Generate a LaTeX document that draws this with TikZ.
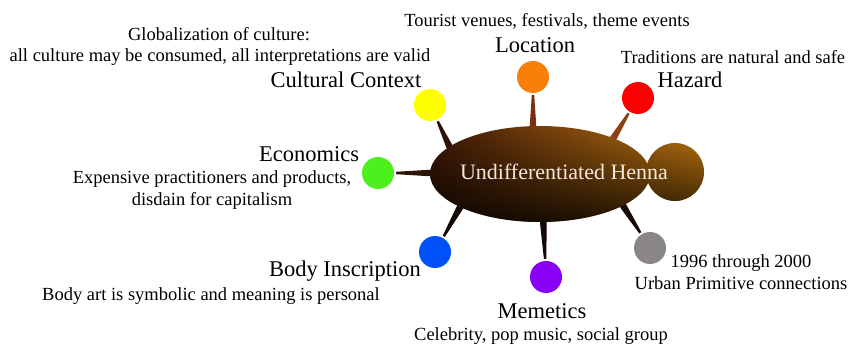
\documentclass[tikz,border=0pt]{standalone}
\usepackage{fontspec}
\setmainfont{Liberation Serif}
\usetikzlibrary{calc,fadings}
\definecolor{hubdark}{HTML}{3E1806}
\definecolor{hubmid}{HTML}{A63C16}
\definecolor{hublight}{HTML}{C47A10}
\definecolor{cyellow}{HTML}{FFFF00}
\definecolor{corange}{HTML}{FA7E0A}
\definecolor{cred}{HTML}{FA0000}
\definecolor{cgreen}{HTML}{4CF01C}
\definecolor{cblue}{HTML}{0052F8}
\definecolor{cpurple}{HTML}{8A00F4}
\definecolor{cgray}{HTML}{8A8686}
\definecolor{spkA}{HTML}{7E2E10}
\definecolor{spkB}{HTML}{8A4412}
\definecolor{spkC}{HTML}{2E1408}
\definecolor{spkD}{HTML}{140804}
\definecolor{hubtext}{HTML}{F6E8DA}
\tikzfading[name=bottomdark, top color=transparent!100, middle color=transparent!85, bottom color=transparent!0]
\newcommand\spikeshape[3]{%
  \path coordinate (T) at ($(#2)!18pt!(#1)$)
        coordinate (P) at ($(#1)!0.22!(T)$)
        coordinate (Q) at ($(#1)!0.08!(T)$);
  \fill[#3] ($(#1)!8pt!90:(T)$) .. controls ($(Q)!3.2pt!90:(T)$) .. ($(P)!3.2pt!90:(T)$)
    -- ($(T)!1.2pt!-90:(#1)$) -- ($(T)!1.2pt!90:(#1)$)
    -- ($(P)!3.2pt!-90:(T)$) .. controls ($(Q)!3.2pt!-90:(T)$) .. ($(#1)!8pt!-90:(T)$) -- cycle;
}
\begin{document}
\begin{tikzpicture}[x=1pt,y=-1pt,
  title/.style={font=\fontsize{22.5}{25}\selectfont, inner sep=0pt},
  note/.style={font=\fontsize{18.5}{22}\selectfont, inner sep=0pt, align=center},
  dot/.style={circle, minimum size=32pt, inner sep=0pt},
]
\useasboundingbox (0,0) rectangle (850,347);
% circles
\node[dot, fill=cyellow] (cY) at (430,105) {};
\node[dot, fill=corange] (cO) at (533,77) {};
\node[dot, fill=cred]    (cR) at (638,98) {};
\node[dot, fill=cgreen]  (cG) at (378,173) {};
\node[dot, fill=cblue]   (cB) at (435,252) {};
\node[dot, fill=cpurple] (cP) at (546,277) {};
\node[dot, fill=cgray]   (cX) at (650,248) {};
% spike bases inside hub
\coordinate (sY) at (452,152);
\coordinate (sO) at (533,133);
\coordinate (sR) at (611,142);
\coordinate (sG) at (438,173);
\coordinate (sB) at (463,202);
\coordinate (sP) at (543,216);
\coordinate (sX) at (620,201);
\spikeshape{sY}{cY}{spkC}
\spikeshape{sO}{cO}{spkA}
\spikeshape{sR}{cR}{spkB}
\spikeshape{sG}{cG}{spkC}
\spikeshape{sB}{cB}{spkD}
\spikeshape{sP}{cP}{spkD}
\spikeshape{sX}{cX}{spkD}
% hub
\shade[left color=hubdark, middle color=hubmid, right color=hublight]
  (540,174) ellipse [x radius=110, y radius=48] (675,172) circle [radius=29];
\fill[black, path fading=bottomdark, fill opacity=0.8]
  (540,174) ellipse [x radius=110, y radius=48] (675,172) circle [radius=29];
\node[font=\fontsize{22}{25}\selectfont, inner sep=0pt, text=hubtext] (hub) at (564,172) {Undifferentiated Henna};
% labels
\node[note] (tCn) at (219,34) {Globalization of culture:};
\node[note] (tCn2) at (220,57) {all culture may be consumed, all interpretations are valid};
\node[title] (tC) at (346,80) {Cultural Context};
\node[note] (tLn) at (547,21) {Tourist venues, festivals, theme events};
\node[title] (tL) at (535,45) {Location};
\node[note] (tHn) at (733,57) {Traditions are natural and safe};
\node[title] (tH) at (690,80) {Hazard};
\node[title] (tE) at (309,154) {Economics};
\node[note] (tEn) at (212,190) {Expensive practitioners and products,\\disdain for capitalism};
\node[title] (tB) at (345,271) {Body Inscription};
\node[note] (tBn) at (211,296) {Body art is symbolic and meaning is personal};
\node[title] (tM) at (542,311) {Memetics};
\node[note] (tMn) at (541,336) {Celebrity, pop music, social group};
\node[note] (tXn) at (741,272) {1996 through 2000\\Urban Primitive connections};
\end{tikzpicture}
\end{document}
